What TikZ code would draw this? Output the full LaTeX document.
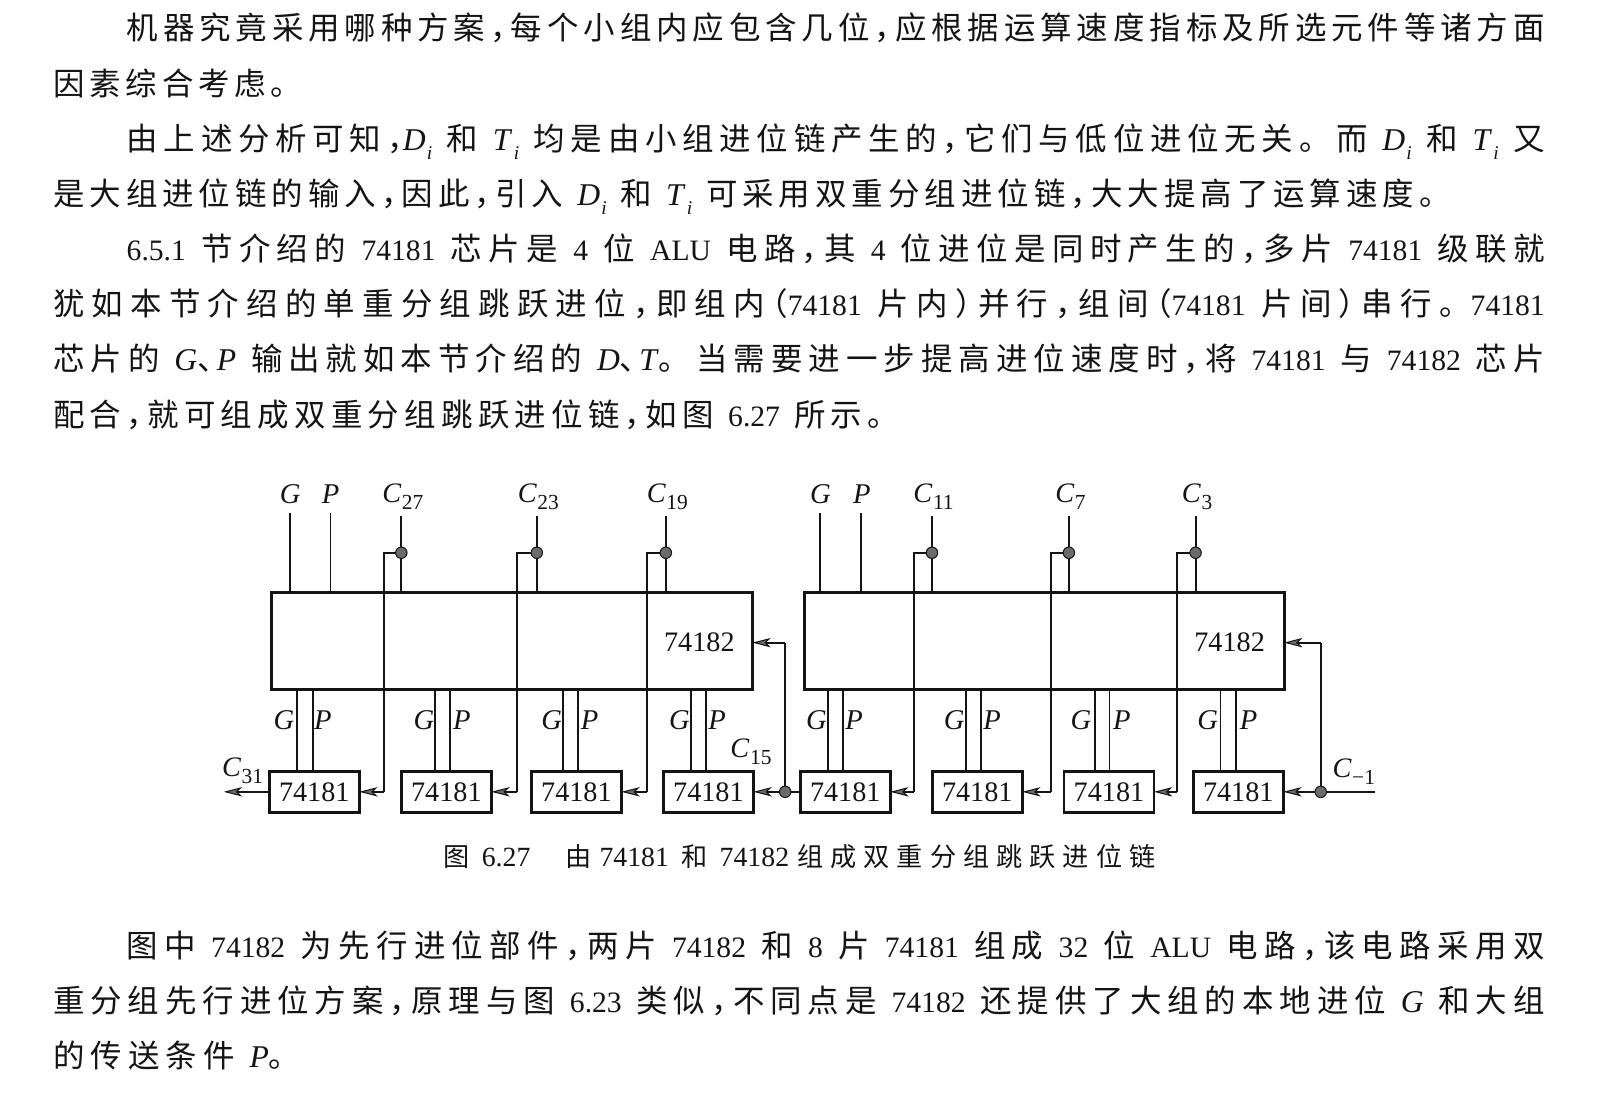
\documentclass[tikz,border=0pt]{standalone}
\usepackage{fontspec}
\setmainfont{Liberation Serif}
\newfontfamily\cjkf{Noto Sans CJK SC}[Scale=1.0]
\usetikzlibrary{arrows.meta}
\definecolor{ink}{gray}{0.08}
\definecolor{dotgray}{gray}{0.42}
\newcommand{\Cloop}[1]{\ifx#1\relax\else #1\hskip 0pt plus 1fil\relax\expandafter\Cloop\fi}
\newcommand{\Cn}[1]{{\cjkf\fontsize{15.4}{18}\selectfont\Cloop#1\relax\unskip}}
\newcommand{\cm}{\makebox[.5em][l]{，}}
\newcommand{\dn}{\makebox[.62em][l]{、}}
\newcommand{\lpr}{\makebox[.5em][r]{（}}
\newcommand{\rpr}{\makebox[.5em][l]{）}}
\newcommand{\Vs}[2]{{\fontsize{15.5}{18}\selectfont\textit{#1}\kern.04em\raisebox{-.3em}{\fontsize{9.5}{11}\selectfont\textit{#2}}}}
\newcommand{\It}[1]{{\fontsize{15.5}{18}\selectfont\textit{#1}}}
\newcommand{\Ln}[5]{\node[linetext] (#1) at (#2,#3) {\hbox to #4pt{\spaceskip=.3em plus 1fil\relax #5\unskip}};}
\newcommand{\Cs}[1]{\textit{C}\kern.02em\raisebox{-.25em}{\fontsize{10.5}{12}\selectfont #1}}
\newcommand{\CapC}[1]{{\cjkf\fontsize{12.8}{15}\selectfont #1}}
\newcommand{\CapL}[1]{{\fontsize{13.6}{15}\selectfont #1}}
\tikzset{
  x=0.5pt,y=-0.5pt,
  linetext/.style={anchor=base west,inner sep=0pt,outer sep=0pt,text=ink,font=\fontsize{14.5}{16}\selectfont},
  bigbox/.style={draw=ink,line width=1.5pt,minimum width=235.5pt,minimum height=47.5pt,inner sep=0pt,outer sep=0pt,anchor=north west},
  chip/.style={draw=ink,line width=1.3pt,fill=white,minimum width=44pt,minimum height=20pt,inner sep=0pt,outer sep=0pt,anchor=north west,text=ink,font=\fontsize{13.8}{16}\selectfont},
  tap/.style={circle,draw=ink,fill=dotgray,line width=.5pt,minimum size=5.6pt,inner sep=0pt,outer sep=0pt},
  lbl/.style={inner sep=0pt,outer sep=0pt,text=ink,font=\fontsize{13.8}{16}\selectfont},
  ilbl/.style={lbl,font=\fontsize{14}{16}\selectfont\itshape},
  wire/.style={draw=ink,line width=.95pt},
  thinwire/.style={draw=ink,line width=.9pt},
  arr/.style={wire,-{Stealth[length=9pt,width=4.6pt,inset=2.4pt,fill=dotgray,line width=.5pt]}},
}
\begin{document}
\begin{tikzpicture}
\useasboundingbox (0,0) rectangle (1568,1077);
\fill[white] (0,0) rectangle (1568,1077);
% body text
\Ln{l1}{124}{39}{694}{\Cn{机器究竟采用哪种方案\cm 每个小组内应包含几位\cm 应根据运算速度指标及所选元件等诸方面}}
\Ln{l2}{52}{93}{122}{\Cn{因素综合考虑。}}
\Ln{l3}{124}{147}{694}{\Cn{由上述分析可知\cm}\Vs{D}{i} \Cn{和} \Vs{T}{i} \Cn{均是由小组进位链产生的\cm 它们与低位进位无关。而} \Vs{D}{i} \Cn{和} \Vs{T}{i} \Cn{又}}
\Ln{l4}{52}{201}{684}{\Cn{是大组进位链的输入\cm 因此\cm 引入} \Vs{D}{i} \Cn{和} \Vs{T}{i} \Cn{可采用双重分组进位链\cm 大大提高了运算速度。}}
\Ln{l5}{124}{255}{694}{6.5.1 \Cn{节介绍的} 74181 \Cn{芯片是} 4 \Cn{位} ALU \Cn{电路\cm 其} 4 \Cn{位进位是同时产生的\cm 多片} 74181 \Cn{级联就}}
\Ln{l6}{52}{309}{730}{\Cn{犹如本节介绍的单重分组跳跃进位\cm 即组内\lpr}74181 \Cn{片内\rpr 并行\cm 组间\lpr}74181 \Cn{片间\rpr 串行。}74181}
\Ln{l7}{52}{363}{730}{\Cn{芯片的} \It{G}\Cn{\dn}\It{P} \Cn{输出就如本节介绍的} \It{D}\Cn{\dn}\It{T}\Cn{。当需要进一步提高进位速度时\cm 将} 74181 \Cn{与} 74182 \Cn{芯片}}
\Ln{l8}{52}{417}{414}{\Cn{配合\cm 就可组成双重分组跳跃进位链\cm 如图} 6.27 \Cn{所示。}}
\node[linetext] (cap) at (434,848) {\hbox to 348.5pt{\CapC{图}\hskip 6pt\CapL{6.27}\hskip 17pt\CapC{由}\hskip 4pt\CapL{74181}\hskip 6pt\CapC{和}\hskip 6pt\CapL{74182}\hskip 4pt\CapC{组}\hfil\CapC{成}\hfil\CapC{双}\hfil\CapC{重}\hfil\CapC{分}\hfil\CapC{组}\hfil\CapC{跳}\hfil\CapC{跃}\hfil\CapC{进}\hfil\CapC{位}\hfil\CapC{链}}};
\Ln{l9}{124}{937}{694}{\Cn{图中} 74182 \Cn{为先行进位部件\cm 两片} 74182 \Cn{和} 8 \Cn{片} 74181 \Cn{组成} 32 \Cn{位} ALU \Cn{电路\cm 该电路采用双}}
\Ln{l10}{52}{991}{730}{\Cn{重分组先行进位方案\cm 原理与图} 6.23 \Cn{类似\cm 不同点是} 74182 \Cn{还提供了大组的本地进位} \It{G} \Cn{和大组}}
\Ln{l11}{52}{1045}{121}{\Cn{的传送条件} \It{P}\Cn{。}}
% big boxes
\node[bigbox] (b1) at (265.4,580) {};
\node[bigbox,minimum width=234.5pt] (b2) at (787.8,580) {};
\node[lbl] (n1) at (684.5,629) {74182};
\node[lbl] (n2) at (1203.5,629) {74182};
% chips
\foreach \nm/\xx in {a1/263.6,a2/392.9,a3/520.2,a4/649.4,a5/783.3,a6/912.5,a7/1041.4,a8/1168}{
  \node[chip] (\nm) at (\xx,755) {74181};
}
% taps and top labels
\foreach \nm/\xx/\lab/\br/\tgt in {27/392.8/27/375.8/a1,23/525.4/23/506.3/a2,19/651.7/19/633/a3,11/912.2/11/894.9/a5,7/1046.2/7/1028.3/a6,3/1170.2/3/1151.9/a7}{
  \node[tap] (d\nm) at (\xx,541) {};
  \coordinate (t\nm) at (\xx,505);
  \node[lbl,anchor=base] (c\nm) at (\xx+1.5,492) {\Cs{\lab}};
  \draw[wire] (t\nm) -- (d\nm);
  \draw[wire] (d\nm) -- (d\nm |- b1.north);
  \coordinate (k\nm) at (\br,541);
  \coordinate (m\nm) at (\br,775);
  \draw[wire] (d\nm) -- (k\nm) -- (m\nm);
  \draw[arr] (m\nm) -- (\tgt.east);
}
% G,P outputs of the big boxes
\foreach \nm/\xg/\xp in {g1/283.4/323.5,g2/802.8/842.4}{
  \coordinate (\nm g) at (\xg,502);
  \coordinate (\nm p) at (\xp,502);
}
\node[ilbl,anchor=base] (tg1) at (284,493) {G};
\node[ilbl,anchor=base] (tp1) at (323.5,493) {P};
\node[ilbl,anchor=base] (tg2) at (803,493) {G};
\node[ilbl,anchor=base] (tp2) at (843.5,493) {P};
\draw[wire] (g1g) -- (g1g |- b1.north);
\draw[wire] (g1p) -- (g1p |- b1.north);
\draw[wire] (g2g) -- (g2g |- b2.north);
\draw[wire] (g2p) -- (g2p |- b2.north);
% G P bus pairs
\foreach \nm/\bb/\xg/\xp/\lg/\lp in {a1/b1/291/306/278/316,a2/b1/425.8/440.8/415/452,a3/b1/550.8/566/540/577,a4/b1/676/691.4/665/702,a5/b2/810.2/824.9/799/836,a6/b2/945.5/960.4/934/971,a7/b2/1071.4/1086/1058/1098,a8/b2/1194.6/1209.5/1182/1222}{
  \coordinate (x) at (\xg,700);
  \coordinate (y) at (\xp,700);
  \draw[thinwire] (x |- \bb.south) -- (x |- \nm.north);
  \draw[thinwire] (y |- \bb.south) -- (y |- \nm.north);
  \node[ilbl] (gl\nm) at (\lg,705) {G};
  \node[ilbl] (pl\nm) at (\lp,705) {P};
}
% carries
\node[tap] (d15) at (768.5,775) {};
\node[tap] (dm1) at (1292.7,775) {};
\coordinate (e1) at (768.5,629);
\coordinate (e2) at (1292.7,629);
\coordinate (e3) at (1346,775);
\coordinate (e4) at (219,775);
\draw[wire] (d15) -- (a5.west);
\draw[arr] (d15) -- (a4.east);
\draw[wire] (d15) -- (e1);
\draw[arr] (e1) -- (e1 -| b1.east);
\draw[wire] (e3) -- (dm1);
\draw[arr] (dm1) -- (a8.east);
\draw[wire] (dm1) -- (e2);
\draw[arr] (e2) -- (e2 -| b2.east);
\draw[arr] (a1.west) -- (e4);
\node[lbl] (c15) at (735,736) {\Cs{15}};
\node[lbl] (c31) at (237.5,754) {\Cs{31}};
\node[lbl] (cm1) at (1325,755) {\Cs{−1}};
\end{tikzpicture}
\end{document}
